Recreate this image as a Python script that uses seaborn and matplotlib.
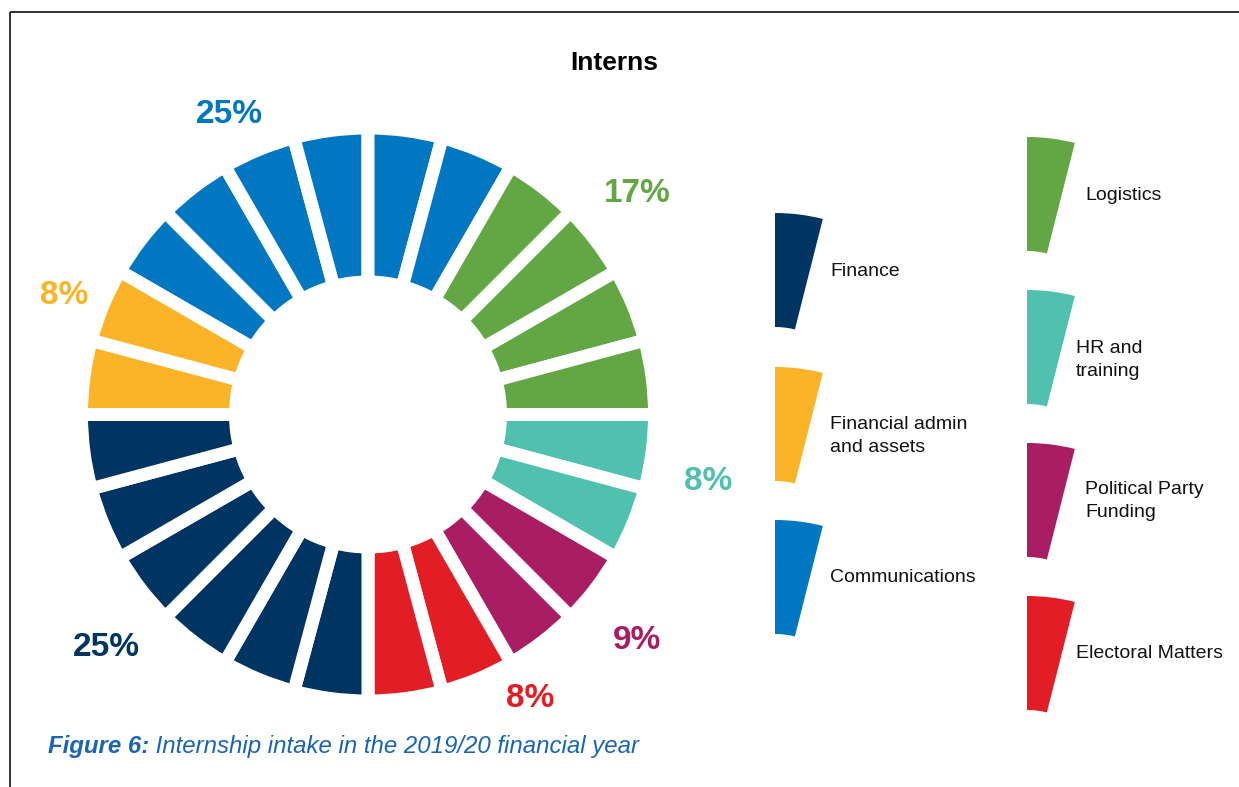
import numpy as np
import pandas as pd
import matplotlib
matplotlib.use("Agg")
import matplotlib.pyplot as plt
from matplotlib.patches import Wedge
import seaborn as sns

# Intern intake by division, listed clockwise starting at the 10 o'clock position
categories = ["Communications", "Logistics", "HR and training",
              "Political Party Funding", "Electoral Matters", "Finance",
              "Financial admin and assets"]
shares = [25, 17, 8, 9, 8, 25, 8]
pct_labels = ["25%", "17%", "8%", "9%", "8%", "25%", "8%"]
colors = ["#0077c0", "#62a744", "#4fc1ae", "#a91d62", "#e21d25", "#003462", "#fbb427"]

# Legend layout: two columns of entries
legend_left = ["Finance", "Financial admin and assets", "Communications"]
legend_right = ["Logistics", "HR and training", "Political Party Funding", "Electoral Matters"]
legend_text = {"Financial admin and assets": "Financial admin\nand assets",
               "HR and training": "HR and\ntraining",
               "Political Party Funding": "Political Party\nFunding"}

title = "Interns"
caption_bold = "Figure 6:"
caption_rest = " Internship intake in the 2019/20 financial year"

sns.set_theme(style="white")
plt.rcParams["font.family"] = ["Liberation Sans", "DejaVu Sans"]

palette = dict(zip(categories, colors))
N_SEG = 24  # ring is split into 15-degree ticks
df = pd.DataFrame({"category": categories, "share": shares, "label": pct_labels})
df["segments"] = np.round(df["share"] * N_SEG / 100).astype(int)
ticks = df.loc[df.index.repeat(df["segments"])].reset_index(drop=True)

W, H = 1239, 787
fig = plt.figure(figsize=(W / 100, H / 100), dpi=100)
fig.patch.set_facecolor("white")

# Full-figure overlay in pixel units (y downwards) for frame, texts and legend
ov = fig.add_axes([0, 0, 1, 1])
ov.set_xlim(0, W)
ov.set_ylim(H, 0)
ov.axis("off")

ov.plot([10, W], [12, 12], color="#111111", lw=1.2, solid_capstyle="butt")
ov.plot([10, 10], [12, H], color="#111111", lw=1.2, solid_capstyle="butt")

# Donut
cx, cy, box = 368, 414.5, 300
ax = fig.add_axes([(cx - box) / W, (H - cy - box) / H, 2 * box / W, 2 * box / H])
gap_px = 13
r_out = 280 + gap_px / 2
r_in = 139 - gap_px / 2
ax.pie(np.ones(len(ticks)),
       colors=[palette[c] for c in ticks["category"]],
       radius=r_out, startangle=150, counterclock=False,
       wedgeprops=dict(width=r_out - r_in, edgecolor="white",
                       linewidth=gap_px * 72 / 100))
ax.set_xlim(-box, box)
ax.set_ylim(-box, box)
ax.set_aspect("equal")
ax.axis("off")

# Percentage labels around the ring (centre x, baseline y in pixels)
label_pos = [(229, 123), (637, 202), (708, 490), (637, 649),
             (530, 707), (106, 656), (64, 304)]
for (x, y), lab, col in zip(label_pos, df["label"], colors):
    ov.text(x, y, lab, color=col, fontsize=24, fontweight="bold",
            ha="center", va="baseline")

ov.text(614, 70, title, fontsize=19, fontweight="bold", ha="center",
        va="baseline", color="black")

# Legend swatches shaped like a single ring tick
R_key, w_key, ang_key = 195, 114, 14.2
left_tops = [213, 367, 520]
right_tops = [137, 290, 443, 596]
left_lab = [(830, 272), (830, 436), (830, 578)]
right_lab = [(1085, 196), (1076, 360), (1085, 501), (1076, 654)]

def key(x, top, cat):
    ov.add_patch(Wedge((x, top + R_key), R_key, 270, 270 + ang_key,
                       width=w_key, facecolor=palette[cat], edgecolor="none"))

for cat, top, (tx, ty) in zip(legend_left, left_tops, left_lab):
    key(775, top, cat)
    ov.text(tx, ty, legend_text.get(cat, cat), fontsize=14, ha="left",
            va="center", linespacing=1.4, color="#111111")
for cat, top, (tx, ty) in zip(legend_right, right_tops, right_lab):
    key(1027, top, cat)
    ov.text(tx, ty, legend_text.get(cat, cat), fontsize=14, ha="left",
            va="center", linespacing=1.4, color="#111111")

# Caption
cap_col = "#1a64b4"
t1 = ov.text(48, 753, caption_bold, fontsize=17.3, fontweight="bold",
             fontstyle="italic", color=cap_col, ha="left", va="baseline")
fig.canvas.draw()
bb = t1.get_window_extent()
ov.text(48 + bb.width, 753, caption_rest, fontsize=17.3, fontstyle="italic",
        color=cap_col, ha="left", va="baseline")

fig.savefig("out.png", dpi=100, facecolor="white")
